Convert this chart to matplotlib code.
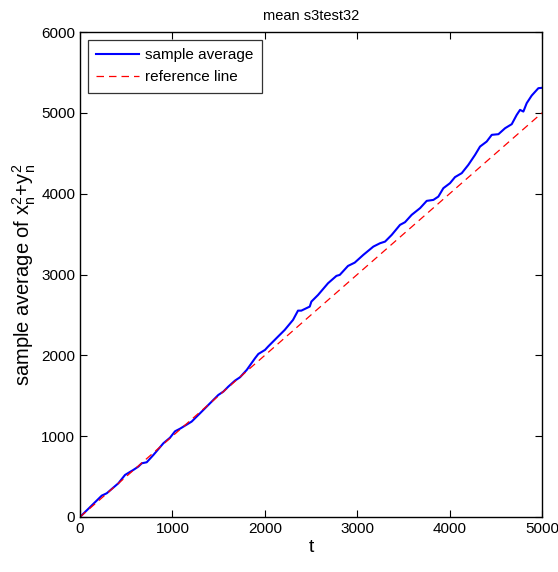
import numpy as np
import matplotlib
matplotlib.use("Agg")
import matplotlib.pyplot as plt

# points (t, sample average)
t_vals = [0, 235, 289, 415, 487, 577, 631, 668, 722, 794, 902, 974, 1028, 1082,
          1208, 1299, 1407, 1497, 1551, 1605, 1677, 1732, 1804, 1894, 1930, 2002,
          2035, 2143, 2215, 2305, 2359, 2395, 2486, 2504, 2576, 2684, 2775, 2811,
          2900, 2973, 3066, 3174, 3247, 3301, 3373, 3463, 3517, 3589, 3680, 3752,
          3824, 3878, 3932, 4004, 4058, 4131, 4202, 4275, 4329, 4401, 4456, 4528,
          4600, 4672, 4726, 4762, 4798, 4834, 4888, 4960, 5000]
avg_vals = [0, 264, 293, 417, 520, 582, 623, 664, 677, 767, 912, 981, 1060, 1092,
            1180, 1283, 1407, 1510, 1551, 1613, 1687, 1729, 1819, 1964, 2017, 2067,
            2108, 2232, 2314, 2438, 2553, 2553, 2603, 2665, 2747, 2892, 2983, 2995,
            3106, 3147, 3243, 3345, 3387, 3407, 3490, 3614, 3647, 3738, 3821, 3911,
            3923, 3964, 4068, 4130, 4205, 4254, 4356, 4480, 4583, 4645, 4728, 4736,
            4810, 4860, 4975, 5037, 5016, 5120, 5214, 5305, 5310]
ref_t = [0, 5000]
ref_vals = [0, 5000]

plt.rcParams['font.family'] = ['Liberation Sans', 'DejaVu Sans']

fig = plt.figure(figsize=(5.58, 5.72), dpi=100)
ax = fig.add_axes([0.1434, 0.0962, 0.8280, 0.8478])

ax.plot(t_vals, avg_vals, color='#0000ff', lw=1.5, label='sample average')
ax.plot(ref_t, ref_vals, color='#ff0000', lw=0.9, ls=(0, (6, 4)), label='reference line')

ax.set_xlim(0, 5000)
ax.set_ylim(0, 6000)
ax.set_xticks(np.arange(0, 5001, 1000))
ax.set_yticks(np.arange(0, 6001, 1000))
ax.tick_params(direction='in', top=True, right=True, labelsize=11, length=5, width=0.8)
for s in ax.spines.values():
    s.set_linewidth(1.0)

ax.set_title('mean s3test32', fontsize=10.5, pad=9)
ax.set_xlabel('t', fontsize=14, labelpad=2)
ax.set_ylabel(r'sample average of $\mathregular{x_n^2\!+\!y_n^2}$', fontsize=14.5, labelpad=2)

leg = ax.legend(loc='upper left', fontsize=11, frameon=True, fancybox=False,
                edgecolor='black', borderaxespad=0.5, handlelength=2.8,
                handletextpad=0.4, borderpad=0.55, labelspacing=0.55)
leg.get_frame().set_linewidth(0.9)

fig.savefig('out.png', dpi=100)
